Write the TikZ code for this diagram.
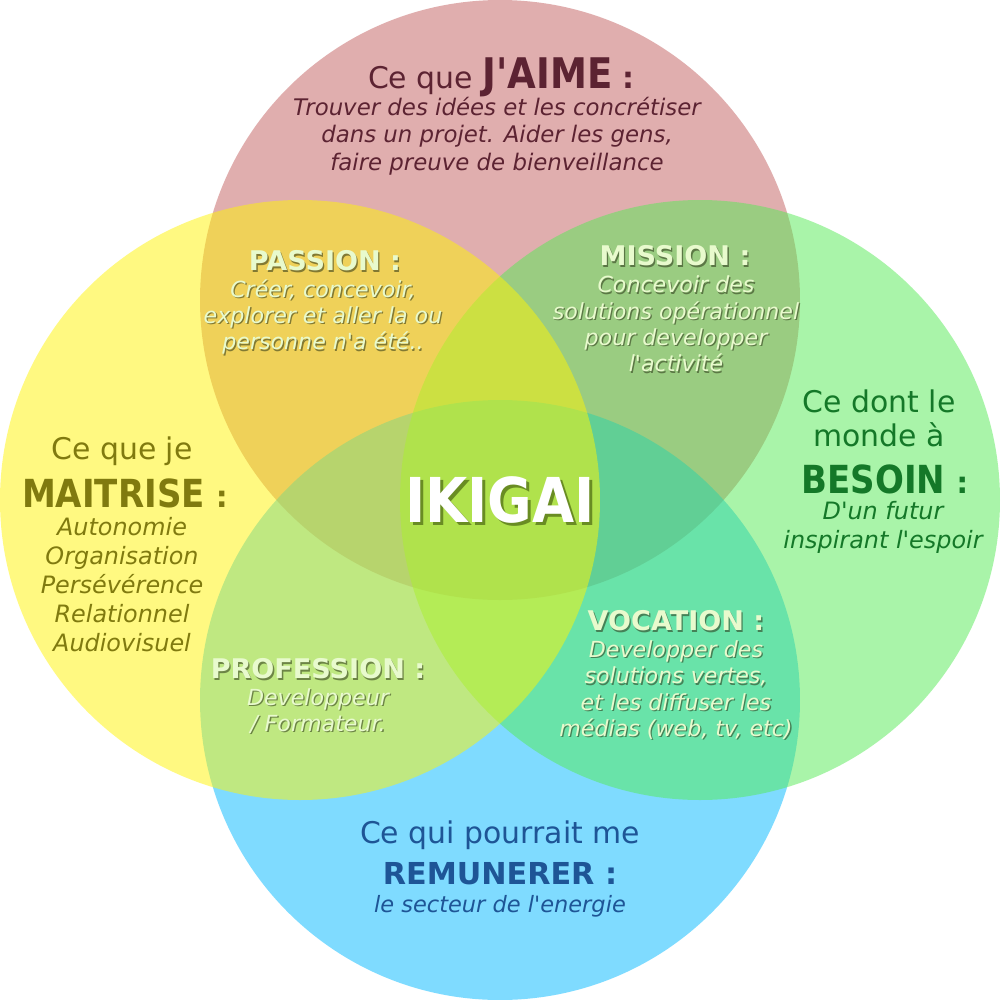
\documentclass[tikz,border=0pt]{standalone}
\usepackage{fontspec}
\setmainfont{DejaVu Sans}[Ligatures=TeXOff]
\newfontfamily\condfont[FakeStretch=0.88,Ligatures=TeXOff]{DejaVu Sans}

\definecolor{aimefill}{RGB}{195,95,95}
\definecolor{maitrisefill}{RGB}{255,245,5}
\definecolor{besoinfill}{RGB}{85,235,85}
\definecolor{remufill}{RGB}{0,185,255}
\definecolor{aimetext}{RGB}{92,35,50}
\definecolor{maitrisetext}{RGB}{128,122,15}
\definecolor{besointext}{RGB}{20,120,40}
\definecolor{remutext}{RGB}{30,85,150}
\definecolor{glowlight}{RGB}{232,250,205}
\definecolor{glowdark}{RGB}{40,50,20}
\definecolor{ikishadow}{RGB}{105,140,35}

\newcommand{\bigw}[2]{{\condfont\bfseries\fontsize{#1}{#1}\selectfont #2}}
\newcommand{\glowlabel}[4]{%
  \node[glowshadow,#3] at (#2) {#4};
  \node[glowtext,#3] (#1) at (#2) {#4};}

\begin{document}
\begin{tikzpicture}[x=0.1mm,y=-0.1mm,
    circ/.style={fill opacity=0.5},
    capt/.style={align=center,font=\fontsize{8.5}{9.7}\selectfont},
    body/.style={align=center,font=\fontsize{6.8}{8.25}\selectfont\itshape},
    glowtext/.style={text=glowlight,align=center},
    glowshadow/.style={text=glowdark,text opacity=0.55,align=center,xshift=0.13mm,yshift=-0.13mm},
    glowhead/.style={font=\fontsize{7.7}{9}\selectfont\bfseries},
    glowbody/.style={font=\fontsize{6.3}{7.5}\selectfont\itshape}]
    % Canvas
    \fill[white] (0,0) rectangle (1000,1000);

    % Circles
    \fill[aimefill,circ] (500,300) circle[radius=3cm];
    \fill[remufill,circ] (500,700) circle[radius=3cm];
    \fill[besoinfill,circ] (700,500) circle[radius=3cm];
    \fill[maitrisefill,circ] (300,500) circle[radius=3cm];

    % Top: J'AIME
    \node[capt,text=aimetext] (aime) at (501,77)
        {Ce que \bigw{12}{J'AIME} {\bfseries :}};
    \node[body,text=aimetext,font=\fontsize{6.5}{7.8}\selectfont\itshape] (aime-text) at (497,136)
        {Trouver des idées et les concrétiser\\dans un projet. Aider les gens,\\faire preuve de bienveillance};

    % Left: MAITRISE
    \node[capt,text=maitrisetext] (maitrise-intro) at (122,451) {Ce que je};
    \node[text=maitrisetext] (maitrise) at (125,493)
        {\bigw{11}{MAITRISE} {\fontsize{8.5}{9.7}\selectfont\bfseries :}};
    \node[body,text=maitrisetext] (maitrise-text) at (122,585)
        {Autonomie\\Organisation\\Persévérence\\Relationnel\\Audiovisuel};

    % Right: BESOIN
    \node[capt,text=besointext] (besoin-intro) at (879,418) {Ce dont le\\monde à};
    \node[text=besointext] (besoin) at (885,479)
        {\bigw{11}{BESOIN} {\fontsize{8.5}{9.7}\selectfont\bfseries :}};
    \node[body,text=besointext] (besoin-text) at (883,527)
        {D'un futur\\inspirant l'espoir};

    % Bottom: REMUNERER
    \node[capt,text=remutext] (remu-intro) at (500,835) {Ce qui pourrait me};
    \node[text=remutext] (remu) at (500,874)
        {{\fontsize{8.6}{9.7}\selectfont\bfseries REMUNERER :}};
    \node[body,text=remutext,font=\fontsize{6.4}{7.8}\selectfont\itshape] (remu-text) at (500,906)
        {le secteur de l'energie};

    % Overlaps
    \glowlabel{passion}{325,261}{glowhead}{PASSION :}
    \glowlabel{passion-text}{323,317}{glowbody}{Créer, concevoir,\\explorer et aller la ou\\personne n'a été..}
    \glowlabel{mission}{675,256}{glowhead}{MISSION :}
    \glowlabel{mission-text}{676,324}{glowbody}{Concevoir des\\solutions opérationnel\\pour developper\\l'activité}
    \glowlabel{vocation}{676,621}{glowhead}{VOCATION :}
    \glowlabel{vocation-text}{676,690}{glowbody}{Developper des\\solutions vertes,\\et les diffuser les\\médias (web, tv, etc)}
    \glowlabel{profession}{318,669}{glowhead}{PROFESSION :}
    \glowlabel{profession-text}{318,711}{glowbody}{Developpeur\\/ Formateur.}

    % Centre
    \node[text=ikishadow] at (503,503) {\bigw{17.6}{IKIGAI}};
    \node[text=white] (ikigai) at (500,500) {\bigw{17.6}{IKIGAI}};
\end{tikzpicture}
\end{document}
